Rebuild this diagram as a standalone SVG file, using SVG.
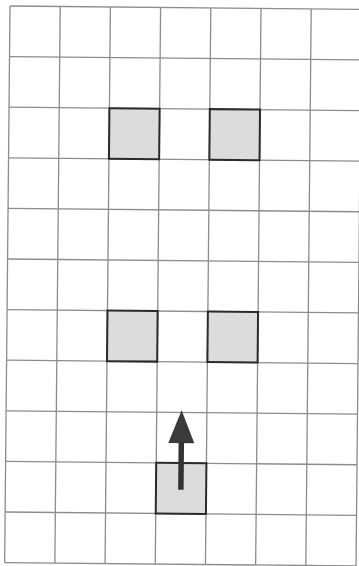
<svg xmlns="http://www.w3.org/2000/svg" width="359" height="566" viewBox="0 0 359 566">
<defs>
<style>
.grid line{stroke:#8c8c8c;stroke-width:1.3}
.cell{fill:#dcdcdc;stroke:#2b2b2b;stroke-width:2}
.shaft{stroke:#333;stroke-width:5.5;fill:none}
.head{fill:#3a3a3a}
</style>
</defs>
<rect width="359" height="566" fill="#fff"/>
<g transform="rotate(0.55 10 6)">
<g id="grid" class="grid">
<line x1="10" y1="6" x2="10" y2="562.6"/>
<line x1="60.2" y1="6" x2="60.2" y2="562.6"/>
<line x1="110.4" y1="6" x2="110.4" y2="562.6"/>
<line x1="160.6" y1="6" x2="160.6" y2="562.6"/>
<line x1="210.8" y1="6" x2="210.8" y2="562.6"/>
<line x1="261" y1="6" x2="261" y2="562.6"/>
<line x1="311.2" y1="6" x2="311.2" y2="562.6"/>
<line x1="361.4" y1="6" x2="361.4" y2="562.6"/>
<line x1="10" y1="6" x2="361.4" y2="6"/>
<line x1="10" y1="56.6" x2="361.4" y2="56.6"/>
<line x1="10" y1="107.2" x2="361.4" y2="107.2"/>
<line x1="10" y1="157.8" x2="361.4" y2="157.8"/>
<line x1="10" y1="208.4" x2="361.4" y2="208.4"/>
<line x1="10" y1="259" x2="361.4" y2="259"/>
<line x1="10" y1="309.6" x2="361.4" y2="309.6"/>
<line x1="10" y1="360.2" x2="361.4" y2="360.2"/>
<line x1="10" y1="410.8" x2="361.4" y2="410.8"/>
<line x1="10" y1="461.4" x2="361.4" y2="461.4"/>
<line x1="10" y1="512" x2="361.4" y2="512"/>
<line x1="10" y1="562.6" x2="361.4" y2="562.6"/>
</g>
<g id="cell-r3-c3"><rect class="cell" x="110.4" y="107.2" width="50.2" height="50.6"/></g>
<g id="cell-r3-c5"><rect class="cell" x="210.8" y="107.2" width="50.2" height="50.6"/></g>
<g id="cell-r7-c3"><rect class="cell" x="110.4" y="309.6" width="50.2" height="50.6"/></g>
<g id="cell-r7-c5"><rect class="cell" x="210.8" y="309.6" width="50.2" height="50.6"/></g>
<g id="cell-r10-c4"><rect class="cell" x="160.6" y="461.4" width="50.2" height="50.6"/></g>
<g id="connectors">
<line class="shaft" x1="185.5" y1="488" x2="185.5" y2="438"/>
<polygon class="head" points="185.5,408.5 198.5,441.5 172.5,441.5"/>
</g>
</g>
</svg>
